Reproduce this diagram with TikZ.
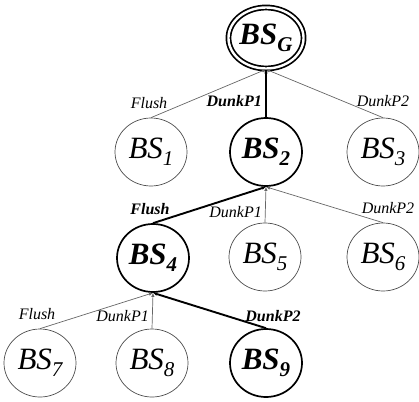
\documentclass[tikz,border=0pt]{standalone}
\usepackage{fontspec}
\setmainfont{Liberation Serif}
\usetikzlibrary{shapes.geometric,arrows.meta}
\newcommand{\bsname}[1]{BS\raisebox{-7pt}{\fontsize{21}{21}\selectfont #1}}
\begin{document}
\begin{tikzpicture}[x=1pt,y=-1pt,
  st/.style={ellipse,draw=black!70,line width=0.7pt,minimum width=72pt,minimum height=68pt,inner sep=0pt,
    font=\fontsize{31}{31}\selectfont\itshape},
  stbold/.style={st,draw=black,line width=1.7pt,font=\fontsize{31}{31}\selectfont\bfseries\itshape},
  goal/.style={st,draw=black,double,double distance=2.4pt,line width=1.7pt,minimum width=68pt,minimum height=61pt,
    font=\fontsize{31}{31}\selectfont\bfseries\itshape},
  weak/.style={draw=black!60,line width=0.7pt,-{Latex[length=4pt,width=3.5pt]}},
  strong/.style={draw=black,line width=1.9pt,-{Latex[length=4pt,width=3.5pt]}},
  lab/.style={inner sep=0pt,font=\fontsize{16}{16}\selectfont\itshape},
  labb/.style={inner sep=0pt,font=\fontsize{16}{16}\selectfont\bfseries\itshape}]
\useasboundingbox (0,0) rectangle (419,401);
% states
\node[goal]   (g)  at (266,38)  {\bsname{G}};
\node[st]     (b1) at (151,152) {\bsname{1}};
\node[stbold] (b2) at (266,152) {\bsname{2}};
\node[st]     (b3) at (383,152) {\bsname{3}};
\node[stbold] (b4) at (153,258) {\bsname{4}};
\node[st]     (b5) at (265,257) {\bsname{5}};
\node[st]     (b6) at (383,257) {\bsname{6}};
\node[st]     (b7) at (40,363)  {\bsname{7}};
\node[st]     (b8) at (152,363) {\bsname{8}};
\node[stbold] (b9) at (266,363) {\bsname{9}};
% edges
\draw[weak]   (b1.north) -- (g.south);
\draw[strong] (b2.north) -- (g.south);
\draw[weak]   (b3.north) -- (g.south);
\draw[strong] (b4.north) -- (b2.south);
\draw[weak]   (b5.north) -- (b2.south);
\draw[weak]   (b6.north) -- (b2.south);
\draw[weak]   (b7.north) -- (b4.south);
\draw[weak]   (b8.north) -- (b4.south);
\draw[strong] (b9.north) -- (b4.south);
% labels
\node[lab,anchor=base]       (l1) at (149,108) {Flush};
\node[labb,anchor=base east] (l2) at (262,106) {DunkP1};
\node[lab,anchor=base]       (l3) at (383,106) {DunkP2};
\node[labb,anchor=base]      (l4) at (150,214) {Flush};
\node[lab,anchor=base east]  (l5) at (262,217) {DunkP1};
\node[lab,anchor=base]       (l6) at (388,213) {DunkP2};
\node[lab,anchor=base]       (l7) at (37,319)  {Flush};
\node[lab,anchor=base east]  (l8) at (149,321) {DunkP1};
\node[labb,anchor=base]      (l9) at (273,321) {DunkP2};
\end{tikzpicture}
\end{document}
